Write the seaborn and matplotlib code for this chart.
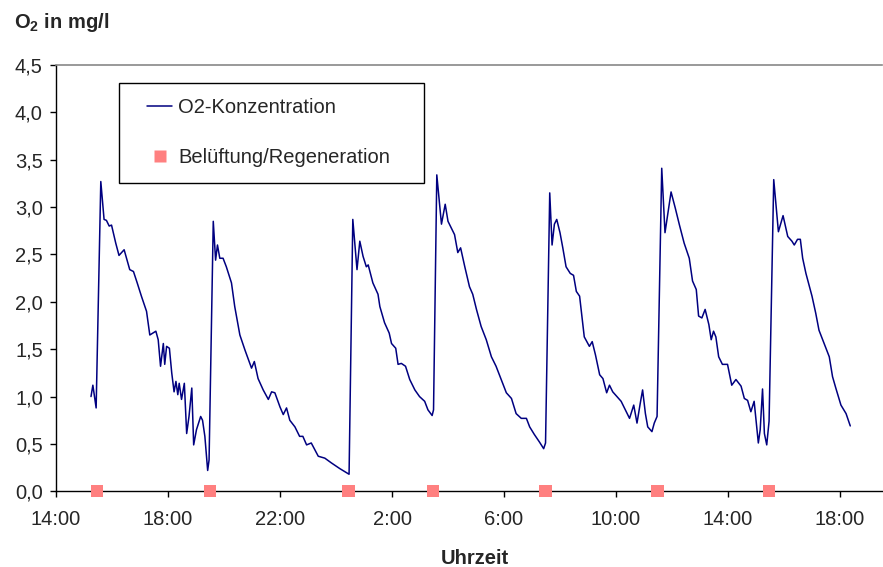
import matplotlib
matplotlib.use("Agg")
import matplotlib.pyplot as plt
import seaborn as sns
import pandas as pd
from matplotlib.lines import Line2D
from matplotlib.patches import Rectangle

# minutes after 14:00 and O2 concentration (mg/l)
minutes = [75, 79, 86, 96, 103, 108, 114, 119, 128, 135, 146, 158, 166, 174, 183, 194, 201, 214, 219, 224,
           230, 233, 237, 243, 248, 253, 257, 261, 264, 269, 275, 280, 285, 291, 295, 301, 310, 314, 319, 325,
           328, 337, 342, 346, 351, 358, 365, 376, 383, 394, 405, 419, 425, 433, 444, 455, 462, 469, 480, 487,
           494, 501, 512, 522, 529, 537, 547, 562, 576, 590, 608, 628, 636, 645, 651, 658, 665, 669, 679, 690,
           694, 704, 714, 719, 728, 733, 740, 749, 758, 769, 779, 790, 797, 806, 809, 816, 826, 834, 840, 849,
           854, 861, 867, 876, 886, 893, 901, 911, 922, 933, 943, 954, 965, 976, 986, 997, 1008, 1015, 1025, 1036,
           1045, 1049, 1058, 1063, 1068, 1073, 1080, 1086, 1093, 1102, 1109, 1115, 1122, 1132, 1143, 1149, 1156, 1165, 1172, 1180,
           1186, 1193, 1202, 1211, 1218, 1229, 1238, 1245, 1252, 1257, 1263, 1268, 1277, 1282, 1288, 1298, 1305, 1318, 1327, 1336,
           1346, 1357, 1364, 1372, 1377, 1384, 1391, 1399, 1404, 1409, 1414, 1420, 1428, 1439, 1448, 1457, 1468, 1475, 1482, 1489,
           1496, 1505, 1509, 1514, 1518, 1523, 1528, 1538, 1548, 1558, 1568, 1577, 1582, 1589, 1595, 1600, 1607, 1620, 1628, 1635,
           1646, 1657, 1664, 1671, 1682, 1693, 1702]
o2 = [1.00, 1.12, 0.88, 3.27, 2.87, 2.86, 2.80, 2.81, 2.62, 2.49, 2.55, 2.34, 2.32, 2.20, 2.06, 1.90, 1.65, 1.69, 1.60, 1.32,
      1.56, 1.34, 1.53, 1.51, 1.25, 1.05, 1.16, 1.02, 1.14, 0.97, 1.14, 0.61, 0.79, 1.09, 0.49, 0.65, 0.79, 0.75, 0.58, 0.22,
      0.33, 2.85, 2.44, 2.60, 2.46, 2.46, 2.37, 2.20, 1.95, 1.65, 1.49, 1.30, 1.37, 1.19, 1.07, 0.97, 1.05, 1.04, 0.89, 0.81,
      0.88, 0.75, 0.68, 0.58, 0.58, 0.49, 0.51, 0.37, 0.35, 0.30, 0.24, 0.18, 2.87, 2.34, 2.64, 2.48, 2.37, 2.39, 2.20, 2.08,
      1.95, 1.78, 1.67, 1.56, 1.51, 1.34, 1.35, 1.32, 1.18, 1.07, 1.00, 0.95, 0.86, 0.80, 0.86, 3.34, 2.82, 3.03, 2.85, 2.76,
      2.71, 2.52, 2.57, 2.37, 2.16, 2.08, 1.92, 1.74, 1.60, 1.42, 1.32, 1.18, 1.04, 0.98, 0.82, 0.77, 0.77, 0.68, 0.60, 0.52,
      0.45, 0.51, 3.15, 2.60, 2.82, 2.87, 2.73, 2.57, 2.37, 2.30, 2.28, 2.11, 2.06, 1.63, 1.53, 1.58, 1.44, 1.23, 1.19, 1.04,
      1.12, 1.05, 1.00, 0.95, 0.88, 0.77, 0.91, 0.72, 0.93, 1.07, 0.82, 0.68, 0.63, 0.72, 0.79, 3.41, 2.73, 3.16, 2.99, 2.81,
      2.62, 2.46, 2.22, 2.13, 1.85, 1.83, 1.92, 1.76, 1.60, 1.69, 1.63, 1.42, 1.34, 1.34, 1.12, 1.18, 1.11, 0.98, 0.96, 0.84,
      0.95, 0.51, 0.65, 1.08, 0.61, 0.49, 0.74, 3.29, 2.74, 2.91, 2.69, 2.64, 2.60, 2.66, 2.66, 2.46, 2.30, 2.06, 1.88, 1.70,
      1.56, 1.42, 1.21, 1.09, 0.91, 0.82, 0.69]

# aeration / regeneration events (minutes after 14:00)
aeration = [88, 330, 627, 808, 1049, 1289, 1528]

x_ticks = [0, 240, 480, 720, 960, 1200, 1440, 1680]
x_labels = ["14:00", "18:00", "22:00", "2:00", "6:00", "10:00", "14:00", "18:00"]
y_ticks = [0, 0.5, 1, 1.5, 2, 2.5, 3, 3.5, 4, 4.5]
y_labels = ["0,0", "0,5", "1,0", "1,5", "2,0", "2,5", "3,0", "3,5", "4,0", "4,5"]

sns.set_theme(style="white")
plt.rcParams['font.family'] = ['Liberation Sans', 'DejaVu Sans']
plt.rcParams['mathtext.fontset'] = 'custom'
plt.rcParams['mathtext.rm'] = 'Liberation Sans'
plt.rcParams['mathtext.bf'] = 'Liberation Sans:bold'

line_col = '#000080'
mark_col = '#FF8080'

fig = plt.figure(figsize=(8.83, 5.67), dpi=100)
ax = fig.add_axes([56/883, 1 - 491.3/567, 826/883, (491.3 - 65)/567])

df = pd.DataFrame({'t': minutes, 'o2': o2})
sns.lineplot(data=df, x='t', y='o2', ax=ax, color=line_col, lw=1.1, sort=False, estimator=None)

ev = pd.DataFrame({'t': aeration, 'o2': [0.0] * len(aeration)})
sns.scatterplot(data=ev, x='t', y='o2', ax=ax, marker='s', s=78, color=mark_col,
                edgecolor='none', linewidth=0, clip_on=False, zorder=5)

ax.set_xlim(0, 1770)
ax.set_ylim(0, 4.5)
ax.set_xticks(x_ticks)
ax.set_xticklabels(x_labels)
ax.set_yticks(y_ticks)
ax.set_yticklabels(y_labels)
ax.set_xlabel('')
ax.set_ylabel('')
ax.tick_params(axis='x', bottom=True, direction='out', length=4.5, width=1, color='black',
               labelsize=14.5, pad=9)
ax.tick_params(axis='y', left=True, direction='out', length=4.5, width=1, color='black',
               labelsize=14.5, pad=5)

for s in ['left', 'bottom']:
    ax.spines[s].set_color('black')
    ax.spines[s].set_linewidth(1)
ax.spines['top'].set_color('#888888')
ax.spines['top'].set_linewidth(1.2)
ax.spines['right'].set_visible(False)

fig.text(14/883, 1 - 28/567, r'$\mathbf{O_2}$ in mg/l', fontsize=14.5, fontweight='bold',
         ha='left', va='baseline')
fig.text(475/883, 1 - 564/567, 'Uhrzeit', fontsize=14.5, fontweight='bold', ha='center', va='baseline')

# legend frame drawn separately so the padding matches the original box
ax.add_patch(Rectangle((119/883, 1 - 183/567), 305/883, 100/567, transform=fig.transFigure,
                       facecolor='white', edgecolor='black', lw=1, zorder=4, clip_on=False))
handles = [Line2D([], [], color=line_col, lw=1.1),
           Line2D([], [], color=mark_col, marker='s', ms=9, ls='none', mec='none')]
leg = ax.legend(handles, ['O2-Konzentration', 'Belüftung/Regeneration'],
                loc='center left', bbox_to_anchor=(147/883, 1 - 132.5/567),
                bbox_transform=fig.transFigure, borderaxespad=0, borderpad=0,
                fontsize=14.5, frameon=False, labelspacing=1.5,
                handlelength=1.25, handletextpad=0.3)
leg.set_zorder(6)

fig.savefig('out.png', dpi=100)
